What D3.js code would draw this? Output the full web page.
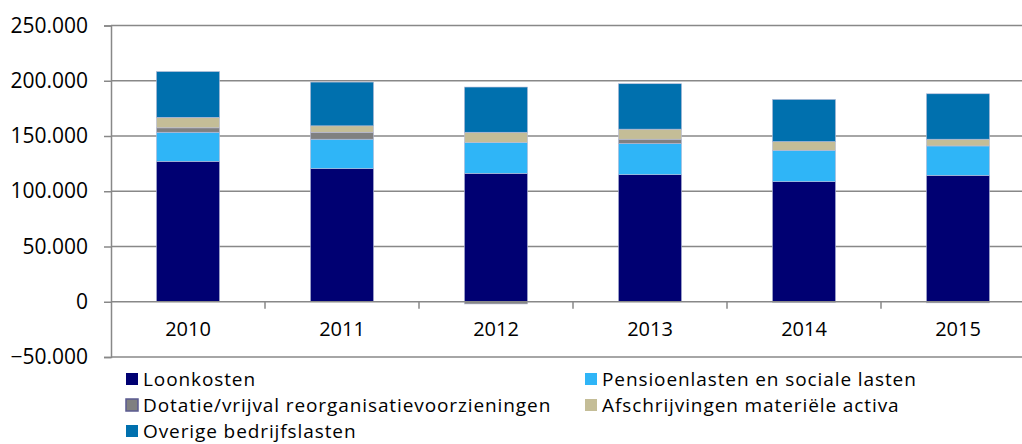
<!DOCTYPE html>
<html>
<head>
<meta charset="utf-8">
<script src="https://cdn.jsdelivr.net/npm/d3@7"></script>
<style>
  body { margin: 0; background: #fff; }
  text { font-family: "Open Sans", sans-serif; }
</style>
</head>
<body>
<div id="wrapper"></div>
<script>
// data (in duizenden euro)
const years = ["2010", "2011", "2012", "2013", "2014", "2015"];
const loonkosten = [127100, 120500, 116200, 115000, 108700, 114400];
const pensioen = [26300, 26600, 27900, 28200, 28400, 26600];
const dotatie = [4000, 6300, -2000, 3900, -500, -1000];
const afschrijvingen = [9500, 5800, 9300, 9100, 7900, 6100];
const overige = [41400, 39600, 40900, 41100, 38100, 41100];
const seriesNames = ["Loonkosten", "Pensioenlasten en sociale lasten", "Dotatie/vrijval reorganisatievoorzieningen", "Afschrijvingen materiële activa", "Overige bedrijfslasten"];
const seriesColors = ["#000072", "#2fb5f7", "#808080", "#c4bd97", "#0070ae"];
const yTicks = [-50000, 0, 50000, 100000, 150000, 200000, 250000];

const table = years.map((y, i) => ({
  year: y,
  [seriesNames[0]]: loonkosten[i],
  [seriesNames[1]]: pensioen[i],
  [seriesNames[2]]: dotatie[i],
  [seriesNames[3]]: afschrijvingen[i],
  [seriesNames[4]]: overige[i]
}));

const dimensions = {
  width: 1022,
  height: 444,
  left: 111,
  right: 1035,
  top: 25.5,
  bottom: 357
};

const svg = d3.select("#wrapper")
  .append("svg")
    .attr("width", dimensions.width)
    .attr("height", dimensions.height);

// Scales
const xScale = d3.scaleBand()
  .domain(years)
  .range([dimensions.left, dimensions.right])
  .paddingInner(0.59)
  .paddingOuter(0.295);

const yScale = d3.scaleLinear()
  .domain([-50000, 250000])
  .range([dimensions.bottom, dimensions.top]);

const fmt = v => d3.format(",")(v).replace(/,/g, ".");

// gridlines + y axis
const yAxis = svg.append("g")
  .attr("transform", `translate(${dimensions.left},0)`)
  .call(d3.axisLeft(yScale).tickValues(yTicks).tickSize(7).tickPadding(16).tickFormat(fmt));
yAxis.select(".domain").attr("stroke", "#888").attr("stroke-width", 1.5);
yAxis.selectAll(".tick line").attr("stroke", "#888").attr("stroke-width", 1.5);
yAxis.selectAll(".tick text")
  .attr("fill", "#000")
  .style("font-size", "21px");

svg.append("g")
  .selectAll("line")
  .data(yTicks.filter(d => d !== 0))
  .join("line")
    .attr("x1", dimensions.left)
    .attr("x2", dimensions.width)
    .attr("y1", d => yScale(d))
    .attr("y2", d => yScale(d))
    .attr("stroke", "#888")
    .attr("stroke-width", 1.5);

// Stacked bars
const stack = d3.stack()
  .keys(seriesNames)
  .offset(d3.stackOffsetDiverging);
const stacked = stack(table);

svg.append("g")
  .selectAll("g")
  .data(stacked)
  .join("g")
    .attr("fill", (d, i) => seriesColors[i])
  .selectAll("rect")
  .data(d => d)
  .join("rect")
    .attr("x", d => xScale(d.data.year))
    .attr("width", xScale.bandwidth())
    .attr("y", d => yScale(Math.max(d[0], d[1])))
    .attr("height", d => Math.abs(yScale(d[0]) - yScale(d[1])))
    .attr("stroke", "#b8bcd8")
    .attr("stroke-width", 0.6);

// x axis at zero
const xAxis = svg.append("g")
  .attr("transform", `translate(0,${yScale(0)})`)
  .call(d3.axisBottom(xScale).tickSize(0).tickPadding(20));
xAxis.select(".domain").remove();
xAxis.selectAll(".tick text").attr("fill", "#000").style("font-size", "20px");

svg.append("line")
  .attr("x1", dimensions.left)
  .attr("x2", dimensions.width)
  .attr("y1", yScale(0))
  .attr("y2", yScale(0))
  .attr("stroke", "#888")
  .attr("stroke-width", 1.5);

// category separator ticks
svg.append("g")
  .selectAll("line")
  .data(years.slice(1))
  .join("line")
    .attr("x1", d => xScale(d) - xScale.step() * xScale.paddingInner() / 2)
    .attr("x2", d => xScale(d) - xScale.step() * xScale.paddingInner() / 2)
    .attr("y1", yScale(0))
    .attr("y2", yScale(0) + 7)
    .attr("stroke", "#888")
    .attr("stroke-width", 1.5);

// Legend
const legendPos = [[126, 379], [585, 379], [126, 405], [585, 405], [126, 431]];
const legend = svg.append("g")
  .selectAll("g")
  .data(seriesNames)
  .join("g")
    .attr("transform", (d, i) => `translate(${legendPos[i][0]},${legendPos[i][1]})`);

legend.append("rect")
  .attr("x", 0)
  .attr("y", -6)
  .attr("width", 12)
  .attr("height", 12)
  .attr("fill", (d, i) => seriesColors[i])
  .attr("stroke", (d, i) => i === 2 ? "#5a5a90" : "none")
  .attr("stroke-width", 1.5);

legend.append("text")
  .attr("x", 17)
  .attr("y", 0)
  .attr("dy", "0.35em")
  .style("font-size", "19px")
  .style("letter-spacing", "0.9px")
  .text(d => d);
</script>
</body>
</html>
